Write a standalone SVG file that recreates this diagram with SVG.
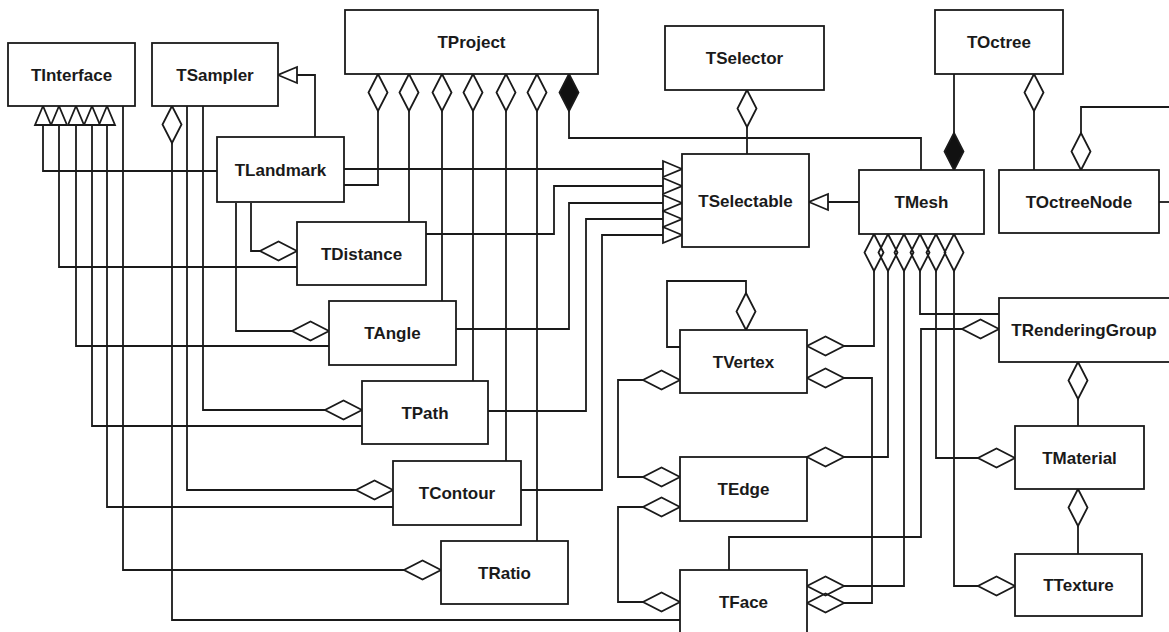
<svg xmlns="http://www.w3.org/2000/svg" width="1169" height="632" viewBox="0 0 1169 632">
<style>
.box{fill:#fff;stroke:#1a1a1a;stroke-width:1.8}
.lbl{font-family:"Liberation Sans",Arial,sans-serif;font-weight:bold;font-size:17px;fill:#1a1a1a;text-anchor:middle}
.c{fill:none;stroke:#1a1a1a;stroke-width:1.8}
.dn{fill:none;stroke:#1a1a1a;stroke-width:1.8}
.a{marker-start:url(#dia)}
.ae{marker-end:url(#dia)}
.g{marker-start:url(#tri)}
.f{marker-start:url(#fdia)}
</style>
<defs>
<marker id="dia" viewBox="-40 -12 42 24" refX="0" refY="0" markerWidth="42" markerHeight="24" markerUnits="userSpaceOnUse" orient="auto-start-reverse">
<path d="M0,0 L-18.5,-9.5 L-37,0 L-18.5,9.5 Z" fill="#fff" stroke="#1a1a1a" stroke-width="1.8"/>
</marker>
<marker id="fdia" viewBox="-40 -12 42 24" refX="0" refY="0" markerWidth="42" markerHeight="24" markerUnits="userSpaceOnUse" orient="auto-start-reverse">
<path d="M0,0 L-18.5,-9.5 L-37,0 L-18.5,9.5 Z" fill="#111" stroke="#1a1a1a" stroke-width="1.8"/>
</marker>
<marker id="tri" viewBox="-22 -11 24 22" refX="0" refY="0" markerWidth="24" markerHeight="22" markerUnits="userSpaceOnUse" orient="auto-start-reverse">
<path d="M0,0 L-19,-8 L-19,8 Z" fill="#fff" stroke="#1a1a1a" stroke-width="1.8"/>
</marker>
</defs>
<rect width="1169" height="632" fill="#fff"/>
<g id="connectors">
<!-- generalizations -->
<path class="c g" d="M278,75 H315 V137"/>
<path class="c g" d="M43,106 V171 H217"/>
<path class="c g" d="M59,106 V267 H297"/>
<path class="c g" d="M76,106 V346 H329"/>
<path class="c g" d="M92,106 V426 H362"/>
<path class="c g" d="M107,106 V507 H393"/>
<path class="c g" d="M682,169 H344"/>
<path class="c g" d="M682,186 H554 V234 H426"/>
<path class="c g" d="M682,203 H569 V329 H456"/>
<path class="c g" d="M682,219 H586 V411 H488"/>
<path class="c g" d="M682,235 H602 V490 H521"/>
<path class="c g" d="M809,202 H859"/>
<!-- TProject -->
<path class="c a" d="M378,74 V185 H344"/>
<path class="c a" d="M409,74 V222"/>
<path class="c a" d="M442,74 V301"/>
<path class="c a" d="M473,74 V381"/>
<path class="c a" d="M506,74 V461"/>
<path class="c a" d="M537,74 V541"/>
<path class="c f" d="M569,74 V138 H921 V170"/>
<!-- TSelector -->
<path class="c a" d="M747,90 V154"/>
<!-- TOctree -->
<path class="c f" d="M954,170 V74"/>
<path class="c a" d="M1034,74 V170"/>
<path class="c a" d="M1081,170 V107 H1175"/>
<path class="c" d="M1159,202 H1175"/>
<!-- TSampler / TInterface -->
<path class="c a" d="M172,106 V620 H680"/>
<path class="c a" d="M393,490 H187 V106"/>
<path class="c a" d="M362,410 H203 V106"/>
<path class="c a" d="M441,570 H123 V106"/>
<!-- TLandmark -->
<path class="c a" d="M297,251 H251 V203"/>
<path class="c a" d="M329,331 H236 V203"/>
<!-- TMesh -->
<path class="c ae" d="M874,271 V346 H807"/>
<path class="c ae" d="M888,271 V457 H807"/>
<path class="c" d="M904,271 V586 H844"/>
<path class="c" d="M920,271 V314 H999"/>
<path class="c ae" d="M936,271 V458 H1015"/>
<path class="c ae" d="M954,271 V586 H1015"/>
<path class="dn" d="M874,234 L883.5,252.5 L874,271 L864.5,252.5 Z"/>
<path class="dn" d="M888,234 L897.5,252.5 L888,271 L878.5,252.5 Z"/>
<path class="dn" d="M904,234 L913.5,252.5 L904,271 L894.5,252.5 Z"/>
<path class="dn" d="M920,234 L929.5,252.5 L920,271 L910.5,252.5 Z"/>
<path class="dn" d="M936,234 L945.5,252.5 L936,271 L926.5,252.5 Z"/>
<path class="dn" d="M954,234 L963.5,252.5 L954,271 L944.5,252.5 Z"/>
<!-- TRenderingGroup / TMaterial -->
<path class="c a" d="M999,329 H921 V537 H729 V570"/>
<path class="c a" d="M1078,362 V426"/>
<path class="c a" d="M1078,489 V554"/>
<!-- TVertex / TEdge / TFace -->
<path class="c a" d="M746,330 V281 H667 V347 H680"/>
<path class="c a ae" d="M680,380 H618 V477 H680"/>
<path class="c a ae" d="M680,507 H618 V602 H680"/>
<path class="c a" d="M807,378 H872 V603 H844"/>
<path class="dn" d="M807,586 L825.5,576.5 L844,586 L825.5,595.5 Z"/>
<path class="dn" d="M807,603 L825.5,593.5 L844,603 L825.5,612.5 Z"/>
</g>
<g id="TInterface"><rect class="box" x="8" y="43" width="127" height="63"/><text class="lbl" x="71.5" y="80.5">TInterface</text></g>
<g id="TSampler"><rect class="box" x="152" y="43" width="126" height="63"/><text class="lbl" x="215" y="80.5">TSampler</text></g>
<g id="TProject"><rect class="box" x="345" y="10" width="253" height="64"/><text class="lbl" x="471.5" y="48">TProject</text></g>
<g id="TSelector"><rect class="box" x="665" y="26" width="159" height="64"/><text class="lbl" x="744.5" y="64">TSelector</text></g>
<g id="TOctree"><rect class="box" x="935" y="10" width="128" height="64"/><text class="lbl" x="999" y="48">TOctree</text></g>
<g id="TLandmark"><rect class="box" x="217" y="137" width="127" height="65"/><text class="lbl" x="280.5" y="175.5">TLandmark</text></g>
<g id="TSelectable"><rect class="box" x="682" y="154" width="127" height="93"/><text class="lbl" x="745.5" y="206.5">TSelectable</text></g>
<g id="TMesh"><rect class="box" x="859" y="170" width="125" height="64"/><text class="lbl" x="921.5" y="208">TMesh</text></g>
<g id="TOctreeNode"><rect class="box" x="999" y="170" width="160" height="63"/><text class="lbl" x="1079" y="207.5">TOctreeNode</text></g>
<g id="TDistance"><rect class="box" x="297" y="222" width="129" height="63"/><text class="lbl" x="361.5" y="259.5">TDistance</text></g>
<g id="TAngle"><rect class="box" x="329" y="301" width="127" height="64"/><text class="lbl" x="392.5" y="339">TAngle</text></g>
<g id="TPath"><rect class="box" x="362" y="381" width="126" height="63"/><text class="lbl" x="425" y="418.5">TPath</text></g>
<g id="TContour"><rect class="box" x="393" y="461" width="128" height="64"/><text class="lbl" x="457" y="499">TContour</text></g>
<g id="TRatio"><rect class="box" x="441" y="541" width="127" height="63"/><text class="lbl" x="504.5" y="578.5">TRatio</text></g>
<g id="TVertex"><rect class="box" x="680" y="330" width="127" height="63"/><text class="lbl" x="743.5" y="367.5">TVertex</text></g>
<g id="TEdge"><rect class="box" x="680" y="457" width="127" height="64"/><text class="lbl" x="743.5" y="495">TEdge</text></g>
<g id="TFace"><rect class="box" x="680" y="570" width="127" height="66"/><text class="lbl" x="743.5" y="608">TFace</text></g>
<g id="TRenderingGroup"><rect class="box" x="999" y="298" width="172" height="64"/><text class="lbl" x="1084" y="336">TRenderingGroup</text></g>
<g id="TMaterial"><rect class="box" x="1015" y="426" width="129" height="63"/><text class="lbl" x="1079.5" y="463.5">TMaterial</text></g>
<g id="TTexture"><rect class="box" x="1015" y="554" width="127" height="62"/><text class="lbl" x="1078.5" y="591">TTexture</text></g>
</svg>
